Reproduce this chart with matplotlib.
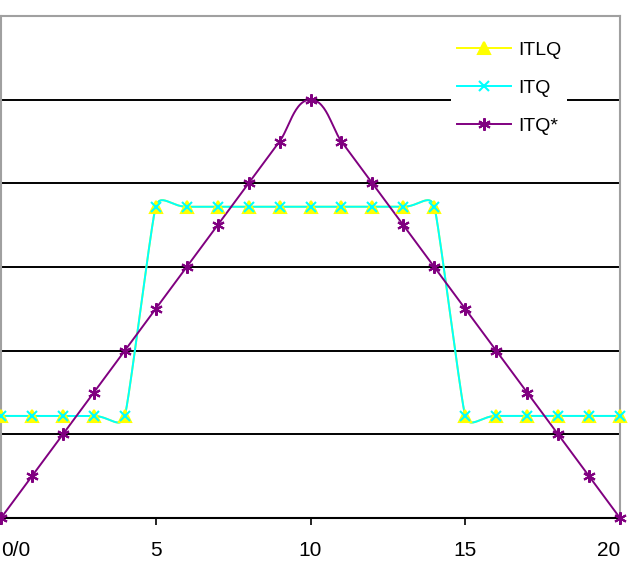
import numpy as np
import matplotlib.pyplot as plt

plt.rcParams['font.family'] = ['Liberation Sans', 'DejaVu Sans']

x = list(range(21))
itlq = [1.22, 1.22, 1.22, 1.22, 1.22, 3.72, 3.72, 3.72, 3.72, 3.72, 3.72,
        3.72, 3.72, 3.72, 3.72, 1.22, 1.22, 1.22, 1.22, 1.22, 1.22]
itq = [1.22, 1.22, 1.22, 1.22, 1.22, 3.72, 3.72, 3.72, 3.72, 3.72, 3.72,
       3.72, 3.72, 3.72, 3.72, 1.22, 1.22, 1.22, 1.22, 1.22, 1.22]
itq_star = [0.0, 0.5, 1.0, 1.5, 2.0, 2.5, 3.0, 3.5, 4.0, 4.5, 5.0,
            4.5, 4.0, 3.5, 3.0, 2.5, 2.0, 1.5, 1.0, 0.5, 0.0]
xtick_pos = [0, 5, 10, 15, 20]
xtick_labels = ["0/0", "5", "10", "15", "20"]

XS, YS = 31.0, 83.6  # rough pixels per data unit, used for the smoothing


def smooth(xs, ys, k=0.5, cap=16.0, n=30):
    # excel-like smoothed line: bezier, handle ~ segment length, capped
    px = np.asarray(xs, float) * XS
    py = np.asarray(ys, float) * YS
    px = np.concatenate([[px[0]], px, [px[-1]]])
    py = np.concatenate([[py[0]], py, [py[-1]]])
    t = np.linspace(0, 1, n)
    outx, outy = [], []
    for i in range(1, len(px) - 2):
        p1 = np.array([px[i], py[i]])
        p2 = np.array([px[i + 1], py[i + 1]])
        seg = np.hypot(*(p2 - p1))
        hl = min(seg * k, cap)
        d1 = np.array([px[i + 1] - px[i - 1], py[i + 1] - py[i - 1]])
        d2 = np.array([px[i + 2] - px[i], py[i + 2] - py[i]])
        d1 = d1 / (np.hypot(*d1) or 1)
        d2 = d2 / (np.hypot(*d2) or 1)
        b1 = p1 + d1 * hl
        b2 = p2 - d2 * hl
        a = (1 - t) ** 3
        b = 3 * (1 - t) ** 2 * t
        c = 3 * (1 - t) * t ** 2
        d = t ** 3
        outx.extend((a * p1[0] + b * b1[0] + c * b2[0] + d * p2[0]) / XS)
        outy.extend((a * p1[1] + b * b1[1] + c * b2[1] + d * p2[1]) / YS)
    return outx, outy


fig = plt.figure(figsize=(6.28, 5.63), dpi=100)
ax = fig.add_axes([1 / 628, 45 / 563, 619 / 628, 502 / 563])

series = [
    ("ITLQ", itlq, "#ffff00", "^", 9),
    ("ITQ", itq, "#00ffff", "x", 7),
    ("ITQ*", itq_star, "#800080", (6, 2, 0), 9),
]
handles = []
for name, ys, col, mk, ms in series:
    sx, sy = smooth(x, ys)
    ax.plot(sx, sy, color=col, lw=1.4, zorder=3)
    ax.plot(x, ys, ls="none", marker=mk, ms=ms, color=col, mew=1.5, zorder=4,
            clip_on=False)
    h, = ax.plot([], [], color=col, lw=1.4, marker=mk, ms=ms, mew=1.5)
    handles.append(h)

ax.set_xlim(0, 20)
ax.set_ylim(0, 6)
ax.set_yticks([1, 2, 3, 4, 5])
ax.yaxis.grid(True, color="black", lw=1.4)
ax.tick_params(axis="y", left=False, labelleft=False)
ax.set_xticks(xtick_pos)
ax.set_xticklabels(xtick_labels)
ax.tick_params(axis="x", direction="out", length=5, width=1.2, pad=11.5,
               labelsize=15, colors="black")
ax.get_xticklabels()[0].set_horizontalalignment("left")
ax.get_xticklabels()[-1].set_horizontalalignment("right")
for s in ["top", "left", "right"]:
    ax.spines[s].set_color("#a0a0a0")
    ax.spines[s].set_linewidth(1.5)
ax.spines["bottom"].set_color("black")
ax.spines["bottom"].set_linewidth(1.5)
ax.set_axisbelow(True)

leg = ax.legend(handles, [s[0] for s in series], loc="upper left",
                bbox_to_anchor=(0.727, 0.962), borderaxespad=0,
                frameon=True, fancybox=False,
                edgecolor="none", facecolor="white", framealpha=1,
                handlelength=2.8, handletextpad=0.36, labelspacing=1.05,
                fontsize=14, borderpad=0.3)
leg.set_zorder(5)

fig.savefig("out.png", dpi=100)
